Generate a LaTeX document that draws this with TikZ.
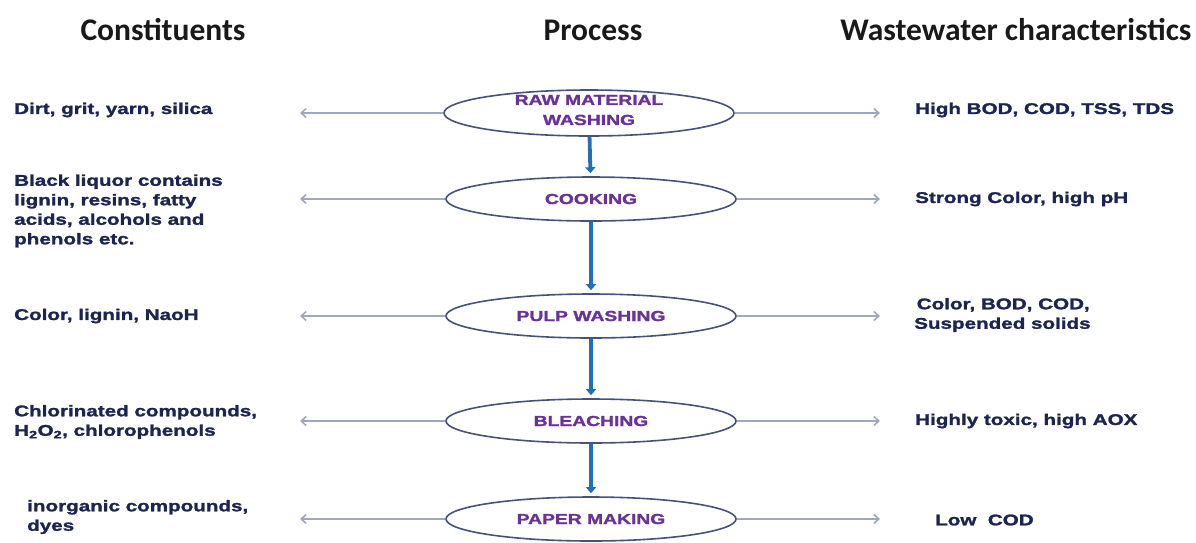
\documentclass[tikz,border=0pt]{standalone}
\usepackage{fontspec}
\usetikzlibrary{shapes.geometric, arrows.meta}
\newfontfamily\headfont{Carlito}
\newfontfamily\lblfont[FakeStretch=1.33, FakeBold=1.6]{Liberation Sans}
\definecolor{navy}{RGB}{28,36,82}
\definecolor{procpurple}{RGB}{106,50,152}
\definecolor{rimblue}{RGB}{70,82,122}
\definecolor{flowblue}{RGB}{30,112,184}
\definecolor{sidegray}{RGB}{160,168,192}
\tikzset{
  x=1pt, y=-1pt,
  head/.style={font=\headfont\bfseries\fontsize{31.5}{36}\selectfont, text=black!90},
  proc/.style={ellipse, draw=rimblue, line width=1.6pt, fill=white,
    minimum width=290, minimum height=44, inner sep=0pt},
  ptext/.style={font=\lblfont\bfseries\fontsize{14.5}{20}\selectfont,
    text=procpurple, align=center},
  lbl/.style={font=\lblfont\bfseries\fontsize{15.5}{19.5}\selectfont,
    text=navy, align=left, anchor=west, inner sep=0pt},
  flow/.style={draw=flowblue, line width=3.8pt, shorten >=3pt,
    -{Triangle[length=6pt,width=10pt]}},
  side/.style={draw=sidegray, line width=1.6pt,
    -{Straight Barb[length=5pt,width=9pt]}},
}

\begin{document}
\begin{tikzpicture}
  \useasboundingbox (0,0) rectangle (1196,542);

  % headings
  \node[head] (hc) at (163,30)  {Constituents};
  \node[head] (hp) at (593,30)  {Process};
  \node[head] (hw) at (1016,30) {Wastewater characteristics};

  % process chain
  \node[proc,minimum height=46] (p1) at (589,113) {};
  \node[proc] (p2) at (591,199) {};
  \node[proc] (p3) at (591,316) {};
  \node[proc] (p4) at (591,421) {};
  \node[proc] (p5) at (591,519) {};

  \node[ptext] (t1) at (589,110) {RAW MATERIAL\\WASHING};
  \node[ptext] (t2) at (p2) {COOKING};
  \node[ptext] (t3) at (p3) {PULP WASHING};
  \node[ptext] (t4) at (p4) {BLEACHING};
  \node[ptext] (t5) at (p5) {PAPER MAKING};

  % constituents
  \node[lbl] (c1) at (14,110) {Dirt, grit, yarn, silica};
  \node[lbl] (c2) at (14,211) {Black liquor contains\\lignin, resins, fatty\\acids, alcohols and\\phenols etc.};
  \node[lbl] (c3) at (14,316) {Color, lignin, NaoH};
  \node[lbl] (c4) at (14,422) {Chlorinated compounds,\\H\textsubscript{2}O\textsubscript{2}, chlorophenols};
  \node[lbl] (c5) at (27,517) {inorganic compounds,\\dyes};

  % wastewater characteristics
  \node[lbl] (w1) at (915,110) {High BOD, COD, TSS, TDS};
  \node[lbl] (w2) at (915,199) {Strong Color, high pH};
  \node[lbl] (w3) at (914,315) {\,Color, BOD, COD,\\Suspended solids};
  \node[lbl] (w4) at (915,421) {Highly toxic, high AOX};
  \node[lbl] (w5) at (935,520) {Low\ \ COD};

  \coordinate (lx) at (300,0);
  \coordinate (rx) at (880,0);

  \draw (p1) edge[flow] (p2)
        (p2) edge[flow] (p3)
        (p3) edge[flow] (p4)
        (p4) edge[flow] (p5);

  \draw[side] (p1.west) -- (p1.west -| lx);
  \draw[side] (p2.west) -- (p2.west -| lx);
  \draw[side] (p3.west) -- (p3.west -| lx);
  \draw[side] (p4.west) -- (p4.west -| lx);
  \draw[side] (p5.west) -- (p5.west -| lx);
  \draw[side] (p1.east) -- (p1.east -| rx);
  \draw[side] (p2.east) -- (p2.east -| rx);
  \draw[side] (p3.east) -- (p3.east -| rx);
  \draw[side] (p4.east) -- (p4.east -| rx);
  \draw[side] (p5.east) -- (p5.east -| rx);
\end{tikzpicture}
\end{document}
